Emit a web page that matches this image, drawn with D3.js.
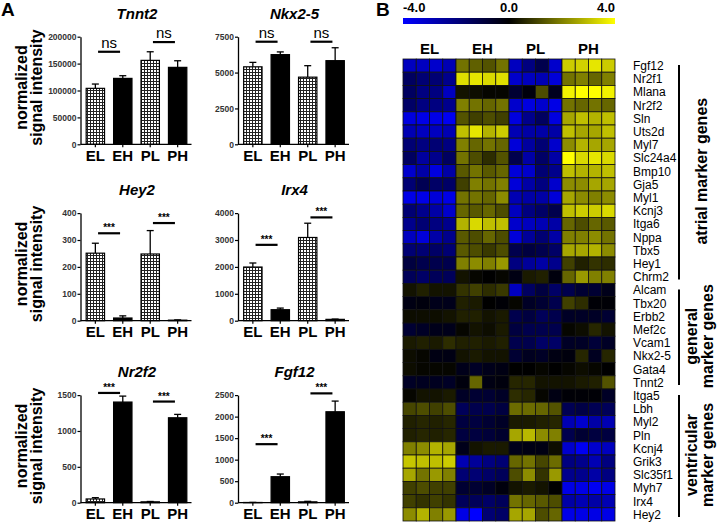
<!DOCTYPE html>
<html>
<head>
<meta charset="utf-8">
<script src="https://cdn.jsdelivr.net/npm/d3@7"></script>
<style>
  body { margin: 0; background: #fff; }
  svg { display: block; font-family: Arial, "Liberation Sans", sans-serif; }
</style>
</head>
<body>
<svg id="fig" width="720" height="522"></svg>
<script>
(function(){
    "use strict";

    // ---- panel A data ----
    var groups = ["EL", "EH", "PL", "PH"];
    var panelGenes = ["Tnnt2", "Nkx2-5", "Hey2", "Irx4", "Nr2f2", "Fgf12"];
    var panelMeans = [
        [104000, 122500, 156000, 143000],
        [5400, 6250, 4680, 5830],
        [251, 10, 248, 2],
        [1995, 409, 3094, 50],
        [52, 1403, 12, 1184],
        [5, 604, 20, 2113]
    ];
    var panelErrors = [
        [8000, 5000, 16000, 12300],
        [310, 190, 800, 900],
        [37, 8, 87, 1],
        [150, 60, 530, 10],
        [18, 83, 5, 47],
        [2, 62, 12, 248]
    ];
    var panelMax = [200000, 7500, 400, 4000, 1500, 2500];
    var panelStep = [50000, 2500, 100, 1000, 500, 500];
    // comparison lines: [left group, right group, label, level]
    var panelSig = [
        [["EL", "EH", "ns", 172000], ["PL", "PH", "ns", 190000]],
        [["EL", "EH", "ns", 7150], ["PL", "PH", "ns", 7150]],
        [["EL", "EH", "***", 325], ["PL", "PH", "***", 363]],
        [["EL", "EH", "***", 2820], ["PL", "PH", "***", 3840]],
        [["EL", "EH", "***", 1530], ["PL", "PH", "***", 1410]],
        [["EL", "EH", "***", 1360], ["PL", "PH", "***", 2540]]
    ];

    // ---- panel B data ----
    var colorTicks = [-4, 0, 4];
    var genes = ["Fgf12", "Nr2f1", "Mlana", "Nr2f2", "Sln", "Uts2d", "Myl7", "Slc24a4",
        "Bmp10", "Gja5", "Myl1", "Kcnj3", "Itga6", "Nppa", "Tbx5", "Hey1", "Chrm2",
        "Alcam", "Tbx20", "Erbb2", "Mef2c", "Vcam1", "Nkx2-5", "Gata4", "Tnnt2",
        "Itga5", "Lbh", "Myl2", "Pln", "Kcnj4", "Grik3", "Slc35f1", "Myh7", "Irx4", "Hey2"];
    var geneSets = [
        {name: ["atrial marker genes"], first: "Fgf12", last: "Chrm2"},
        {name: ["general", "marker genes"], first: "Alcam", last: "Tnnt2"},
        {name: ["ventricular", "marker genes"], first: "Itga5", last: "Hey2"}
    ];
    var heat = [
        [-3, -3, -3.2, -2.8, 1.8, 1.5, 1.3, 1.8, -3, -2, -1.2, -3.2, 3.2, 3.3, 3.6, 3.2],
        [-1.5, -1.8, -1.8, -2.2, 3.5, 3.6, 3.4, 3.5, -3.2, -3, -2.8, -3.4, 1.8, 2, 1.6, 2],
        [-1.5, -2, -2, -3, 0.3, 0.2, 0.1, 0.1, -0.8, -0.2, 1.2, -0.5, 3.8, 4, 4, 3.8],
        [-1.6, -2, -2, -2.2, 2, 1.8, 1.6, 1.8, -3.2, -3.5, -3.2, -3.6, 1.8, 1.6, 1.8, 1.6],
        [-3.5, -3.6, -3.6, -3.8, 1.3, 1, 1.2, 1, -3.5, -2.2, -1.5, -3.5, 2.6, 3, 2.8, 3],
        [-2.8, -3, -3, -2.8, 3, 3.6, 2.8, 3.2, -2.8, -2.6, -2.6, -2.6, 3, 2.6, 2.6, 3],
        [-1.8, -2, -1.8, -2, 2, 1.6, 1.8, 1.6, -3.4, -2.5, -1.8, -3.2, 2.2, 2.8, 2.6, 2.6],
        [-1.5, -2.5, -2.2, -1.5, 1.8, 1.2, 0.7, 1.3, -1.2, -2.6, -1.6, -2.6, 4, 3.4, 3.6, 3.4],
        [-3.2, -2.6, -3.5, -2.6, 1.4, 1.8, 1.4, 1.6, -3.4, -3.2, -1.8, -2.2, 3, 2.8, 2.8, 3],
        [-1.8, -1.3, -1.6, -1.6, 1, 2, 1.8, 2, -3.4, -2.6, -2, -3.2, 2.2, 2.2, 2.6, 2.6],
        [-3.6, -3.6, -3.4, -3.6, 1.8, 1.8, 1.6, 2.2, -2.8, -2.6, -2.6, -3.4, 2.6, 2.2, 2, 2.2],
        [-1.8, -2.2, -2.6, -3.2, 1.6, 1.4, 1.6, 1.2, -3, -2, -1.6, -1.2, 3, 3.2, 3.2, 3.4],
        [-2.2, -1.8, -2, -2.2, 2.8, 3.4, 3, 3, -3.2, -3, -2.8, -2.6, 1.6, 1.2, 1.6, 1.4],
        [-3, -3.4, -2.6, -2.2, 1.4, 1.2, 1.6, 1.2, -3.4, -2.4, -1.8, -2.6, 2, 2, 2.2, 1.8],
        [-1.8, -1.8, -1.6, -1.8, 1.4, 1.2, 0.9, 1.2, -1.2, -1, -1.2, -1.6, 2.6, 2.6, 2.8, 2.2],
        [-1, -1.2, -1.2, -1.2, 2, 2.2, 2, 2.4, -2, -2.4, -2.6, -2.2, 1, 0.5, 0.8, 0.7],
        [-1.4, -1.6, -1.4, -1.4, 0.3, 0.1, 0, 0.1, -0.3, 0.4, 0.5, -0.2, 1.6, 2.4, 2, 2],
        [0.3, 0.5, 0.3, 0.3, 0.8, 1, 0.7, 0.9, -3, -1.5, -1, -1.6, -1.2, -0.8, -0.8, -0.4],
        [-0.3, -0.2, -0.4, -0.4, 0.5, 0.4, 0, -0.1, 0.1, -0.6, -0.8, -1.2, 1, 0.7, -0.1, -0.1],
        [0.2, 0.2, 0.2, 0.3, 0.5, 0.5, 0.3, 0.4, -1.2, -1, -1.4, -1.2, -0.6, -0.6, -0.6, -0.8],
        [-0.8, -0.6, -0.4, -0.4, 0.1, 0.3, 0.2, 0.4, -1, -1.2, -1.2, -1.2, 0.1, 0.2, 0.6, 0.3],
        [0.4, 0.5, 0.4, 0.7, 0.5, 0.5, 0.4, 0.5, -1.2, -1.2, -1.6, -1.6, -0.6, -0.6, -0.9, -0.6],
        [0.2, 0.1, -0.3, -0.3, 0.3, 0.4, 0.3, 0.3, -0.8, -0.5, -0.6, -0.3, -0.2, 0.6, -0.5, 0.6],
        [0.2, 0.1, 0.1, 0.1, -0.4, -0.6, -0.4, -0.3, 0, 0, 0.1, 0, 0.1, 0.2, 0.1, 0],
        [-0.6, -0.5, -0.5, -0.6, -0.2, 1.6, -0.3, -0.2, 0.6, 0.6, 0.3, 0.3, 0.3, 0.4, 0.5, 1.3],
        [0.1, 0.3, 0.3, 0.4, -0.6, -0.8, -0.8, -0.6, 0.7, 0.6, 0.1, -0.3, -0.1, -0.1, -0.1, -0.6],
        [1.1, 1.2, 1, 1.2, -1.4, -1.2, -1.2, -1, 1.7, 1.7, 1.6, 1.3, -1.3, -1.1, -1.3, -1.4],
        [0.5, 0.6, 0.5, 0.6, -1, -1, -0.8, -0.6, 0.4, 0.4, 0.5, 0.6, -2.8, -3.2, -2.6, -2.8],
        [0.5, 0.6, 0.5, 0.6, -1, -1, -0.9, -0.7, 2.6, 2.9, 2.2, 2, -1.2, -0.8, -1, -1],
        [2, 2.2, 2.8, 2.6, -0.4, 0.3, 0.4, 0.4, -0.4, -0.3, -0.3, 0.2, -3.2, -3.8, -3.2, -3],
        [3.1, 3, 3, 3.2, -2.8, -2.4, -2, -1.8, 1.6, 1.8, 1.1, 1.7, -2, -2.2, -2.8, -2],
        [2.6, 1.8, 2.4, 2, -1.8, -1.8, -1.6, -1.4, 1.2, 2.2, 0.8, 2.4, -2.2, -2.2, -2.6, -2],
        [1, 1.2, 1, 1, -0.8, -0.8, -0.6, -0.2, 0.3, 0.4, 0.3, 0, -3.6, -3.6, -3.8, -3.6],
        [1, 0.8, 1, 0.8, -1.4, -1.4, -1.6, -1.4, 1.8, 1.6, 1.4, 1.2, -2.6, -2.8, -2.6, -2.8],
        [2.2, 2.8, 2, 2.4, -3.6, -4, -1.8, -1.6, 2.6, 2.6, 1.2, 1.6, -3.6, -3.6, -3.6, -3.6]
    ];

    var svg = d3.select("#fig");

    // grid hatch used for the "L" bars
    var defs = svg.append("defs");
    var pat = defs.append("pattern")
        .attr("id", "grid")
        .attr("patternUnits", "userSpaceOnUse")
        .attr("width", 3).attr("height", 3);
    pat.append("rect").attr("width", 3).attr("height", 3).attr("fill", "#fff");
    pat.append("path").attr("d", "M0,0.5H3M0.5,0V3")
        .attr("stroke", "#222").attr("stroke-width", 1);

    svg.append("text").attr("x", 1).attr("y", 16)
        .style("font-size", "19px").style("font-weight", "bold").text("A");
    svg.append("text").attr("x", 376).attr("y", 16)
        .style("font-size", "19px").style("font-weight", "bold").text("B");

    // ---------------- panel A: bar charts ----------------
    var colX = [80.5, 238],
        rowBase = [144.3, 320.7, 502.7],
        plotH = 107.6,
        plotW = 111;

    panelGenes.forEach(function(gene, k) {
        var ax = colX[k % 2], base = rowBase[Math.floor(k / 2)];
        var g = svg.append("g");

        var x = d3.scaleBand().domain(groups).range([ax + 1, ax + plotW]).paddingInner(0.33).paddingOuter(0.17);
        var y = d3.scaleLinear().domain([0, panelMax[k]]).range([base, base - plotH]);

        // bars
        g.selectAll("rect.bar")
            .data(groups)
            .enter().append("rect")
            .attr("class", "bar")
            .attr("x", function(d) { return x(d); })
            .attr("width", x.bandwidth())
            .attr("y", function(d, i) { return y(panelMeans[k][i]); })
            .attr("height", function(d, i) { return base - y(panelMeans[k][i]); })
            .attr("fill", function(d) { return d.charAt(1) === "L" ? "url(#grid)" : "#000"; })
            .attr("stroke", "#000")
            .attr("stroke-width", 1.2);

        // upper error bars
        groups.forEach(function(d, i) {
            var cx = x(d) + x.bandwidth() / 2,
                y1 = y(panelMeans[k][i]),
                y2 = y(panelMeans[k][i] + panelErrors[k][i]);
            g.append("line").attr("x1", cx).attr("x2", cx).attr("y1", y1).attr("y2", y2)
                .attr("stroke", "#000").attr("stroke-width", 1.3);
            g.append("line").attr("x1", cx - 3.5).attr("x2", cx + 3.5).attr("y1", y2).attr("y2", y2)
                .attr("stroke", "#000").attr("stroke-width", 1.3);
        });

        // y axis
        var yAxis = d3.axisLeft(y).tickValues(d3.range(0, panelMax[k] + 1, panelStep[k]))
            .tickSize(3).tickSizeOuter(0).tickFormat(d3.format("d"));
        var ya = g.append("g").attr("transform", "translate(" + ax + ",0)").call(yAxis);
        ya.select(".domain").attr("stroke-width", 1.3);
        ya.selectAll("line").attr("stroke-width", 1.2);
        ya.selectAll("text").attr("x", -4).style("font-size", "8.5px").style("font-weight", "bold")
            .attr("fill", "#333");

        // x axis
        var xAxis = d3.axisBottom(x).tickSize(3).tickSizeOuter(0);
        var xa = g.append("g").attr("transform", "translate(0," + base + ")").call(xAxis);
        xa.select(".domain").attr("d", "M" + ax + ",0H" + (ax + plotW)).attr("stroke-width", 1.3);
        xa.selectAll("line").attr("stroke-width", 1.2);
        xa.selectAll("text").attr("y", 6).attr("dy", "0.71em")
            .style("font-size", "15px").style("font-weight", "bold").attr("fill", "#000");

        // title
        g.append("text")
            .attr("x", ax + 1 + plotW / 2)
            .attr("y", base - plotH - 18)
            .attr("text-anchor", "middle")
            .style("font-size", "15px").style("font-weight", "bold").style("font-style", "italic")
            .text(gene);

        // comparison lines
        panelSig[k].forEach(function(s) {
            var c = (x(s[0]) + x(s[1]) + x.bandwidth()) / 2,
                ly = y(s[3]);
            g.append("line").attr("x1", c - 11).attr("x2", c + 11).attr("y1", ly).attr("y2", ly)
                .attr("stroke", "#000").attr("stroke-width", 2.2);
            g.append("text").attr("x", c).attr("y", s[2] === "ns" ? ly - 4 : ly - 2)
                .attr("text-anchor", "middle")
                .style("font-size", s[2] === "ns" ? "15px" : "10px")
                .style("font-weight", s[2] === "ns" ? "normal" : "bold")
                .text(s[2]);
        });

        // y label, left column only
        if (k % 2 === 0) {
            var cy = base - plotH / 2 - 3;
            ["normalized", "signal intensity"].forEach(function(t, j) {
                g.append("text")
                    .attr("transform", "translate(" + (27 + j * 15) + "," + cy + ") rotate(-90)")
                    .attr("text-anchor", "middle")
                    .style("font-size", "16px").style("font-weight", "bold")
                    .text(t);
            });
        }
    });

    // ---------------- panel B: heatmap ----------------
    var hx = d3.scaleBand().domain(d3.range(16)).range([403, 615]);
    var hy = d3.scaleBand().domain(genes).range([59, 59 + genes.length * 13.2]);
    var color = d3.scaleLinear().domain([-4, 0, 4]).range(["#0000ff", "#000000", "#ffff00"]).clamp(true);

    var cells = [];
    heat.forEach(function(row, r) {
        row.forEach(function(v, c) { cells.push({gene: genes[r], col: c, v: v}); });
    });

    svg.append("g").selectAll("rect")
        .data(cells)
        .enter().append("rect")
        .attr("x", function(d) { return hx(d.col); })
        .attr("y", function(d) { return hy(d.gene); })
        .attr("width", hx.bandwidth())
        .attr("height", hy.bandwidth())
        .attr("fill", function(d) { return color(d.v); })
        .attr("stroke", "#111")
        .attr("stroke-width", 0.8);

    // group labels
    var gx = d3.scaleBand().domain(groups).range([403, 615]);
    svg.append("g").selectAll("text")
        .data(groups)
        .enter().append("text")
        .attr("x", function(d) { return gx(d) + gx.bandwidth() / 2; })
        .attr("y", 54)
        .attr("text-anchor", "middle")
        .style("font-size", "15px").style("font-weight", "bold")
        .text(function(d) { return d; });

    // gene labels
    svg.append("g").selectAll("text")
        .data(genes)
        .enter().append("text")
        .attr("x", 633)
        .attr("y", function(d) { return hy(d) + hy.bandwidth() / 2 + 4.3; })
        .style("font-size", "12px")
        .text(function(d) { return d; });

    // colour bar
    var cbx = d3.scaleLinear().domain([-4, 4]).range([403, 615]);
    var grad = defs.append("linearGradient").attr("id", "cbar");
    d3.range(-4, 4.01, 0.5).forEach(function(v) {
        grad.append("stop").attr("offset", ((v + 4) / 8 * 100) + "%").attr("stop-color", color(v));
    });
    svg.append("rect").attr("x", cbx(-4)).attr("y", 18).attr("width", cbx(4) - cbx(-4)).attr("height", 6)
        .attr("fill", "url(#cbar)");
    svg.append("g").selectAll("text")
        .data(colorTicks)
        .enter().append("text")
        .attr("x", function(d) { return cbx(d); })
        .attr("y", 12)
        .attr("text-anchor", function(d, i) { return i === 0 ? "start" : (i === colorTicks.length - 1 ? "end" : "middle"); })
        .style("font-size", "13px").style("font-weight", "bold")
        .text(function(d) { return d.toFixed(1); });

    // gene set brackets
    geneSets.forEach(function(s) {
        var top = hy(s.first), bot = hy(s.last) + hy.bandwidth();
        svg.append("line").attr("x1", 679).attr("x2", 679).attr("y1", top + 6).attr("y2", bot - 4)
            .attr("stroke", "#000").attr("stroke-width", 2);
        var cy = (top + bot) / 2,
            n = s.name.length;
        s.name.forEach(function(t, j) {
            var bx = n === 1 ? 707 : 697 + j * 16;
            svg.append("text")
                .attr("transform", "translate(" + bx + "," + cy + ") rotate(-90)")
                .attr("text-anchor", "middle")
                .style("font-size", "16px").style("font-weight", "bold")
                .text(t);
        });
    });
})();
</script>
</body>
</html>
